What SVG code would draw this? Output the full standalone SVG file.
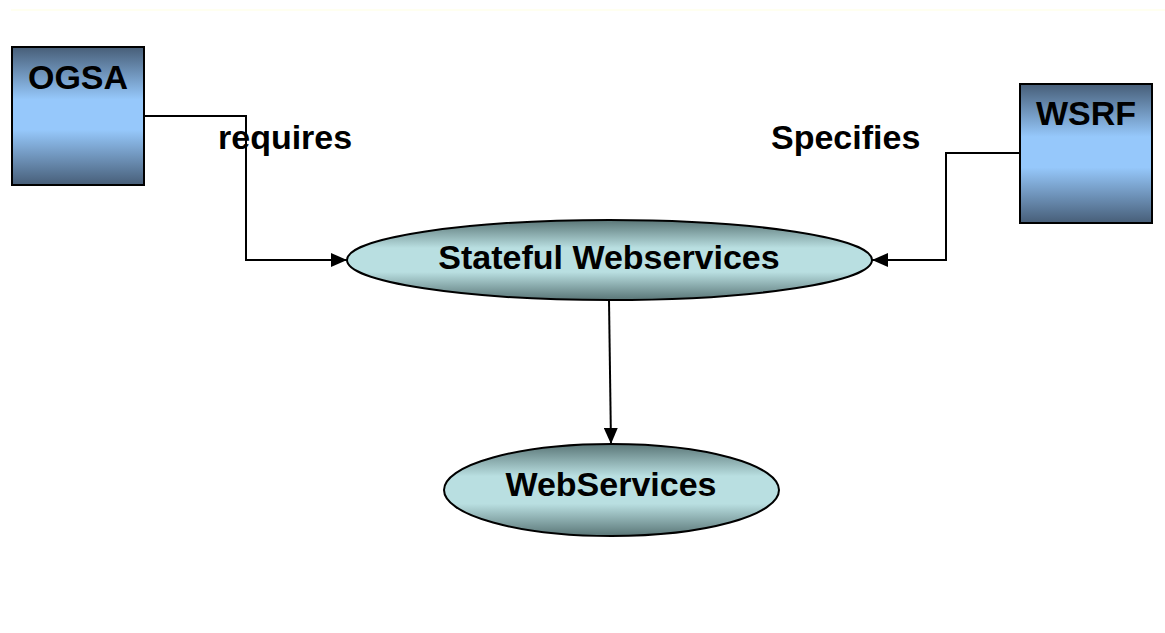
<svg xmlns="http://www.w3.org/2000/svg" width="1165" height="633" viewBox="0 0 1165 633">
  <defs>
    <linearGradient id="boxFill" x1="0" y1="0" x2="0" y2="1">
      <stop offset="0" stop-color="#475e78"/>
      <stop offset="0.38" stop-color="#96c8fb"/>
      <stop offset="0.6" stop-color="#96c8fb"/>
      <stop offset="1" stop-color="#475e78"/>
    </linearGradient>
    <linearGradient id="ovalFill" x1="0" y1="0" x2="0" y2="1">
      <stop offset="0" stop-color="#5a7677"/>
      <stop offset="0.35" stop-color="#b9dfe1"/>
      <stop offset="0.65" stop-color="#b9dfe1"/>
      <stop offset="1" stop-color="#5a7677"/>
    </linearGradient>
    <marker id="arrow" viewBox="0 0 16 14" refX="16" refY="7" markerWidth="16" markerHeight="14" markerUnits="userSpaceOnUse" orient="auto">
      <path d="M0,0 L16,7 L0,14 Z" fill="#000"/>
    </marker>
  </defs>
  <style>
    .box { fill: url(#boxFill); stroke: #000; stroke-width: 2; }
    .oval { fill: url(#ovalFill); stroke: #000; stroke-width: 2; }
    .lbl { font-family: "Liberation Sans", Arial, sans-serif; font-weight: bold; font-size: 34px; fill: #000; }
    .wire { fill: none; stroke: #000; stroke-width: 2; }
  </style>

  <rect width="1165" height="633" fill="#ffffff"/>
  <line x1="11" y1="10" x2="1165" y2="10" stroke="#fffff0" stroke-width="2"/>

  <g id="connectors">
    <polyline class="wire" points="144,116 246,116 246,260 347,260" marker-end="url(#arrow)"/>
    <polyline class="wire" points="1020,153 946,153 946,260 872,260" marker-end="url(#arrow)"/>
    <line class="wire" x1="609" y1="300" x2="611" y2="444" marker-end="url(#arrow)"/>
  </g>

  <g id="ogsa">
    <rect class="box" x="12" y="47" width="132" height="138"/>
    <text class="lbl" x="78" y="89" text-anchor="middle">OGSA</text>
  </g>

  <g id="wsrf">
    <rect class="box" x="1020" y="84" width="132" height="139"/>
    <text class="lbl" x="1086" y="125" text-anchor="middle">WSRF</text>
  </g>

  <g id="label-requires">
    <text class="lbl" x="218" y="149">requires</text>
  </g>

  <g id="label-specifies">
    <text class="lbl" x="771" y="149">Specifies</text>
  </g>

  <g id="stateful-webservices">
    <ellipse class="oval" cx="609.5" cy="260" rx="262.5" ry="40"/>
    <text class="lbl" x="609" y="269" text-anchor="middle">Stateful Webservices</text>
  </g>

  <g id="webservices">
    <ellipse class="oval" cx="611.5" cy="490" rx="167.5" ry="46"/>
    <text class="lbl" x="611" y="496" text-anchor="middle">WebServices</text>
  </g>
</svg>
